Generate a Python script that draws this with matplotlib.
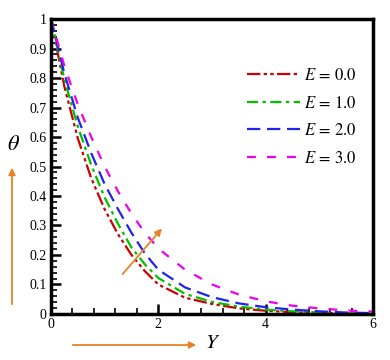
import matplotlib
matplotlib.use("Agg")
import matplotlib.pyplot as plt
from matplotlib.ticker import MultipleLocator

plt.rcParams['font.family'] = ['Liberation Serif', 'DejaVu Serif']
plt.rcParams['mathtext.fontset'] = 'stix'

Y = [0, 0.25, 0.5, 0.75, 1.0, 1.25, 1.5, 1.75, 2.0, 2.5, 3.0, 3.5, 4.0, 4.5, 5.0, 5.5, 6.0]
theta_E0 = [1.0, 0.77, 0.595, 0.46, 0.355, 0.27, 0.2, 0.145, 0.10, 0.055, 0.034, 0.019, 0.011, 0.006, 0.004, 0.002, 0.001]
theta_E1 = [1.0, 0.795, 0.635, 0.505, 0.395, 0.305, 0.225, 0.168, 0.122, 0.068, 0.041, 0.025, 0.015, 0.009, 0.005, 0.003, 0.002]
theta_E2 = [1.0, 0.815, 0.665, 0.545, 0.44, 0.355, 0.275, 0.205, 0.15, 0.09, 0.057, 0.036, 0.023, 0.015, 0.009, 0.005, 0.003]
theta_E3 = [1.0, 0.84, 0.71, 0.6, 0.5, 0.415, 0.34, 0.275, 0.222, 0.15, 0.1, 0.066, 0.043, 0.028, 0.019, 0.012, 0.008]
labels = [r'$E\,=\,0.0$', r'$E\,=\,1.0$', r'$E\,=\,2.0$', r'$E\,=\,3.0$']
xticks = [0, 2, 4, 6]
xticklabels = ['0', '2', '4', '6']
yticks = [0, 0.1, 0.2, 0.3, 0.4, 0.5, 0.6, 0.7, 0.8, 0.9, 1.0]
yticklabels = ['0', '0.1', '0.2', '0.3', '0.4', '0.5', '0.6', '0.7', '0.8', '0.9', '1']

colors = ['#cc0000', '#00c000', '#2222ee', '#ee00ee']
styles = [(0, (6, 1.5, 1.5, 1.5, 1.5, 1.5)), (0, (5, 2, 1.5, 2)), (0, (6, 3)), (0, (4, 5))]

fig = plt.figure(figsize=(3.9, 3.6), dpi=100)
ax = fig.add_axes([0.1308, 0.1278, 0.8256, 0.8194])

series = [theta_E0, theta_E1, theta_E2, theta_E3]
for s, c, ls, lab in zip(series, colors, styles, labels):
    ax.plot(Y, s, color=c, linestyle=ls, linewidth=1.6, label=lab)

ax.set_xlim(0, 6)
ax.set_ylim(0, 1)
ax.set_xticks(xticks)
ax.set_xticklabels(xticklabels)
ax.set_yticks(yticks)
ax.set_yticklabels(yticklabels)
ax.xaxis.set_minor_locator(MultipleLocator(0.4))
ax.yaxis.set_minor_locator(MultipleLocator(0.02))
ax.tick_params(which='major', direction='in', length=7, width=1.8, labelsize=10, pad=3,
               top=False, right=False)
ax.tick_params(which='minor', direction='in', length=4, width=1.2, top=False, right=False)
for sp in ax.spines.values():
    sp.set_linewidth(2.5)

leg = ax.legend(loc='upper right', bbox_to_anchor=(0.995, 0.885), frameon=False,
                fontsize=12, handlelength=3.2, handletextpad=0.2, labelspacing=0.7)

fig.text(14 / 390, 1 - 145 / 360, r'$\theta$', fontsize=16, ha='center', va='center')
fig.text(213 / 390, 1 - 344 / 360, r'$Y$', fontsize=15, ha='center', va='center')

orange = '#e8822a'
fig.patches.append(matplotlib.patches.FancyArrowPatch(
    (12 / 390, 1 - 307 / 360), (12 / 390, 1 - 165 / 360), transform=fig.transFigure,
    arrowstyle='-|>', mutation_scale=10, color=orange, lw=1.3))
fig.patches.append(matplotlib.patches.FancyArrowPatch(
    (70 / 390, 1 - 345 / 360), (199 / 390, 1 - 345 / 360), transform=fig.transFigure,
    arrowstyle='-|>', mutation_scale=10, color=orange, lw=1.3))
ax.annotate('', xy=(2.1, 0.297), xytext=(1.30, 0.128),
            arrowprops=dict(arrowstyle='-|>', color=orange, lw=1.3, mutation_scale=10))

fig.savefig('out.png', dpi=100)
